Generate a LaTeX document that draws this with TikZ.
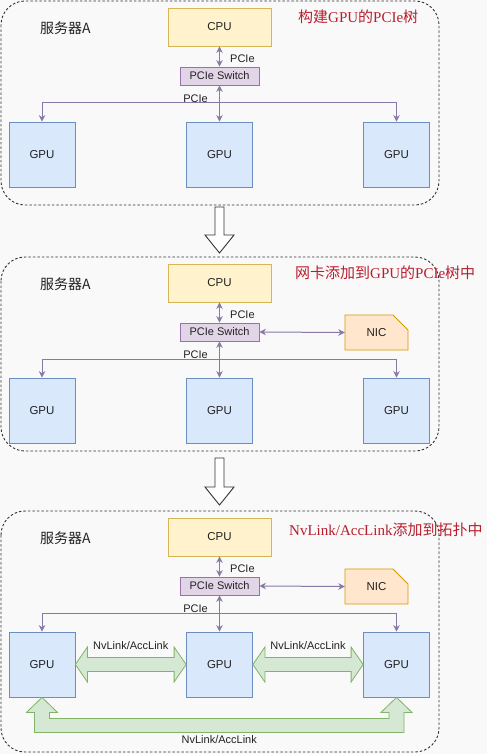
\documentclass[tikz,border=0pt]{standalone}
\usepackage{fontspec}
\setmainfont{Liberation Sans}
\newfontfamily\cjk{Noto Sans CJK SC}
\newfontfamily\serifl{Liberation Serif}
\usetikzlibrary{arrows.meta,calc}
\definecolor{bgc}{HTML}{F9F9F9}
\definecolor{cpuF}{HTML}{FFF2CC}
\definecolor{cpuD}{HTML}{D6B656}
\definecolor{swF}{HTML}{E1D5E7}
\definecolor{swD}{HTML}{9673A6}
\definecolor{gpuF}{HTML}{DAE8FC}
\definecolor{gpuD}{HTML}{6C8EBF}
\definecolor{nicF}{HTML}{FFE6CC}
\definecolor{nicD}{HTML}{D79B00}
\definecolor{nvF}{HTML}{D5E8D4}
\definecolor{nvD}{HTML}{82B366}
\definecolor{pc}{RGB}{135,120,165}
\definecolor{ttlc}{RGB}{185,30,45}
\definecolor{txt}{HTML}{222222}
\definecolor{bord}{HTML}{333333}
\tikzset{
  box/.style={draw, line width=0.8pt, inner sep=0pt, text=txt, font=\fontsize{11.5}{13}\selectfont},
  cpubox/.style={box, fill=cpuF, draw=cpuD, minimum width=103pt, minimum height=38pt},
  swbox/.style={box, fill=swF, draw=swD, minimum width=79pt, minimum height=18pt, font=\fontsize{11}{13}\selectfont},
  gpubox/.style={box, fill=gpuF, draw=gpuD, minimum width=66pt, minimum height=65pt},
  nicarea/.style={inner sep=0pt, text=txt, font=\fontsize{11.5}{13}\selectfont, minimum width=63pt, minimum height=35pt},
  nicshape/.style={fill=nicF, draw=nicD, line width=0.8pt},
  lbl/.style={inner sep=0pt, text=txt, font=\fontsize{11}{13}\selectfont},
  srvlbl/.style={inner sep=0pt, text=txt, font=\fontsize{14}{16}\cjk},
  ttl/.style={inner sep=0pt, text=ttlc, font=\fontsize{15}{17}\selectfont},
  panel/.style={draw=bord, line width=0.9pt, dash pattern=on 2.5pt off 2pt, rounded corners=24pt},
  pcie/.style={draw=pc, line width=1pt},
  nvl/.style={fill=nvF, draw=nvD, line width=0.8pt},
  hollow/.style={fill=white, draw=bord, line width=0.9pt, line join=miter},
  >={Stealth[length=6.5pt,width=6.5pt]}
}
\begin{document}
\begin{tikzpicture}[x=1pt,y=-1pt]
\useasboundingbox (0,0) rectangle (487,754);
\fill[bgc] (0,0) rectangle (487,754);

% common parts of the three panels
\foreach \p/\o/\b in {a/0/205,b/256/451,c/510/752}{
  \draw[panel] (1,\o+1) rectangle (439,\b);
  \node[cpubox] (\p cpu) at (219.5,\o+27) {CPU};
  \node[swbox] (\p sw) at (219.5,\o+76) {PCIe Switch};
  \node[gpubox] (\p g1) at (42,\o+154.5) {GPU};
  \node[gpubox] (\p g2) at (219.5,\o+154.5) {GPU};
  \node[gpubox] (\p g3) at (396.5,\o+154.5) {GPU};
  \node[srvlbl, anchor=west] (\p srv) at (40,\o+28) {服务器A};
  \draw[pcie,<->] (\p cpu) -- (\p sw);
  \node[lbl, anchor=west] (\p l1) at (230,\o+58.5) {PCIe};
  \coordinate (\p hy) at (219.5,\o+103);
  \draw[pcie,<->] (\p sw) -- (\p g2);
  \draw[pcie,->] (\p hy) -| (\p g1.north);
  \draw[pcie,->] (\p hy) -| (\p g3.north);
  \node[lbl] (\p l2) at (195.5,\o+98.5) {PCIe};
}

% NIC in panels 2 and 3
\foreach \p/\o in {b/256,c/510}{
  \filldraw[nicshape] (345,\o+59) -- (393,\o+59) -- (408,\o+74) -- (408,\o+94) -- (345,\o+94) -- cycle;
  \node[nicarea] (\p nic) at (376.5,\o+76.5) {NIC};
  \draw[pcie,<->] (\p sw.east) -- (\p nic.west);
}

% titles
\node[ttl, anchor=west] (ta) at (298,17) {\cjk 构建{\serifl GPU}的{\serifl PCIe}树};
\node[ttl, anchor=west] (tb) at (295,273) {\cjk 网卡添加到{\serifl GPU}的{\serifl PCIe}树中};
\node[ttl, anchor=west] (tc) at (289,530) {{\serifl NvLink/AccLink}\cjk 添加到拓扑中};

% NvLink fat arrows (panel 3)
\filldraw[nvl] (cg1.east) -- ++(12,-17.5) -- ++(0,10.5) -- ($(cg2.west)+(-12,-7)$) -- ++(0,-10.5) -- (cg2.west) -- ++(-12,17.5) -- ++(0,-10.5) -- ($(cg1.east)+(12,7)$) -- ++(0,10.5) -- cycle;
\filldraw[nvl] (cg2.east) -- ++(12,-17.5) -- ++(0,10.5) -- ($(cg3.west)+(-12,-7)$) -- ++(0,-10.5) -- (cg3.west) -- ++(-12,17.5) -- ++(0,-10.5) -- ($(cg2.east)+(12,7)$) -- ++(0,10.5) -- cycle;
\node[lbl] (nv1) at ($(cg1.east)!0.5!(cg2.west)+(0,-19)$) {NvLink/AccLink};
\node[lbl] (nv2) at ($(cg2.east)!0.5!(cg3.west)+(0,-19)$) {NvLink/AccLink};
\filldraw[nvl] (cg1.south) -- ++(15.5,15) -- ++(-8,0) -- ($(cg1.south)+(7.5,21)$) -- ($(cg3.south)+(-7.5,21)$) -- ++(0,-6) -- ++(-8,0) -- (cg3.south) -- ++(15.5,15) -- ++(-8,0) -- ++(0,20) -- ($(cg1.south)+(-7.5,35)$) -- ++(0,-20) -- ++(-8,0) -- cycle;
\node[lbl] (nv3) at ($(cg1.south)!0.5!(cg3.south)+(0,42)$) {NvLink/AccLink};

% hollow arrows between panels
\filldraw[hollow] (215,207) -- (224,207) -- (224,235) -- (234,235) -- (219.5,253) -- (205,235) -- (215,235) -- cycle;
\filldraw[hollow] (215,458) -- (224,458) -- (224,487) -- (234,487) -- (219.5,505) -- (205,487) -- (215,487) -- cycle;
\end{tikzpicture}
\end{document}
